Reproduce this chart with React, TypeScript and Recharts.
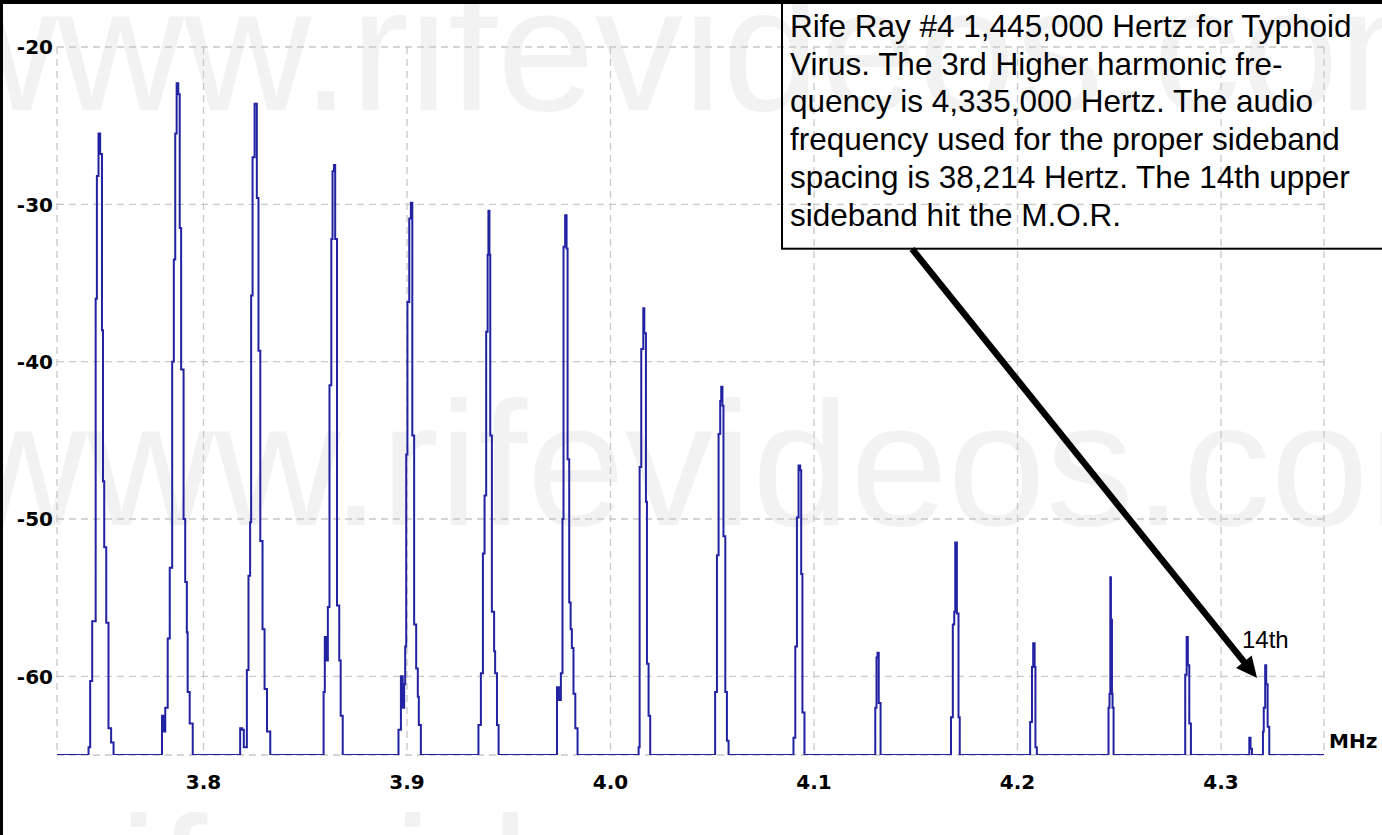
import React from 'react';
import { LineChart, Line, XAxis, YAxis, CartesianGrid, ReferenceLine } from 'recharts';

// ---- axes ----
const X_DOMAIN: [number, number] = [3.728, 4.3506];
const Y_DOMAIN: [number, number] = [-65, -20];
const X_TICKS = [3.8, 3.9, 4.0, 4.1, 4.2, 4.3];
const Y_TICKS = [-20, -30, -40, -50, -60];
const X_UNIT = 'MHz';

// ---- spectrum trace: [MHz, dB] samples, level changes at each listed frequency ----
const TRACE_START: [number, number][] = [[3.728, -65]];
const PEAK_01: [number, number][] = [
  [3.7435, -64.5], [3.7443, -60.3], [3.7453, -56.5], [3.747, -36.0], [3.7476, -28.2], [3.7484, -25.5],
  [3.7492, -26.8], [3.7501, -38.0], [3.7506, -47.6], [3.7512, -51.8], [3.7522, -56.6], [3.7533, -63.3],
  [3.7546, -64.2], [3.7558, -65],
];
const PEAK_02: [number, number][] = [
  [3.7796, -62.5], [3.7804, -63.5], [3.7812, -62.0], [3.7824, -57.6], [3.7834, -53.1], [3.7846, -40.0],
  [3.7854, -33.5], [3.7861, -25.5], [3.7868, -22.3], [3.7876, -23.0], [3.7883, -31.5], [3.789, -40.5],
  [3.7902, -50.0], [3.791, -54.0], [3.7918, -57.2], [3.7922, -61.0], [3.7932, -63.0], [3.7947, -65],
];
const PEAK_03: [number, number][] = [
  [3.818, -63.3], [3.819, -63.4], [3.8198, -64.5], [3.8213, -59.6], [3.8221, -53.6], [3.8229, -50.2],
  [3.8234, -35.8], [3.8241, -27.0], [3.8251, -23.6], [3.8262, -29.6], [3.827, -39.3], [3.8279, -51.4],
  [3.829, -57.0], [3.83, -60.8], [3.8312, -63.5], [3.8328, -65],
];
const PEAK_04: [number, number][] = [
  [3.859, -61.0], [3.8596, -57.5], [3.8605, -59.0], [3.8611, -55.6], [3.8619, -41.5], [3.8628, -32.2],
  [3.8634, -27.9], [3.8641, -27.5], [3.8647, -32.2], [3.8656, -55.5], [3.8667, -59.0], [3.8674, -62.5],
  [3.8684, -65],
];
const PEAK_05: [number, number][] = [
  [3.8958, -63.4], [3.897, -60.0], [3.8979, -62.0], [3.8986, -60.5], [3.8991, -58.1], [3.8996, -45.9],
  [3.9002, -36.2], [3.9011, -30.9], [3.9019, -29.9], [3.9026, -44.7], [3.9035, -56.7], [3.9045, -59.5],
  [3.9053, -61.3], [3.9058, -63.1], [3.9068, -65],
];
const PEAK_06: [number, number][] = [
  [3.9351, -63.1], [3.9363, -59.8], [3.9373, -52.2], [3.9381, -48.5], [3.9389, -38.1], [3.9396, -33.2],
  [3.94, -30.4], [3.9405, -33.2], [3.9409, -44.7], [3.9417, -55.9], [3.9428, -58.4], [3.9433, -59.8],
  [3.9442, -63.1], [3.945, -65],
];
const PEAK_07: [number, number][] = [
  [3.9737, -60.7], [3.9746, -61.5], [3.9756, -59.8], [3.9764, -50.0], [3.9769, -32.7], [3.9777, -30.7],
  [3.9784, -32.8], [3.9789, -46.2], [3.9797, -55.3], [3.9804, -57.0], [3.981, -58.2], [3.9818, -61.1],
  [3.9827, -63.3], [3.9838, -65],
];
const PEAK_08: [number, number][] = [
  [4.0138, -64.5], [4.0143, -46.7], [4.0151, -39.2], [4.0161, -36.6], [4.0166, -38.2], [4.0174, -48.9],
  [4.0179, -59.2], [4.0187, -62.5], [4.0195, -65],
];
const PEAK_09: [number, number][] = [
  [4.0514, -61.0], [4.0523, -52.3], [4.0531, -44.6], [4.0539, -42.5], [4.0544, -41.6], [4.055, -42.8],
  [4.0555, -51.1], [4.0564, -61.0], [4.0572, -64.1], [4.058, -65],
];
const PEAK_10: [number, number][] = [
  [4.0899, -63.9], [4.0908, -58.1], [4.0916, -49.9], [4.0924, -46.6], [4.0932, -46.9], [4.0937, -53.5],
  [4.0943, -62.3], [4.0953, -65],
];
const PEAK_11: [number, number][] = [
  [4.1301, -62.0], [4.1307, -58.8], [4.1312, -58.5], [4.1318, -61.7], [4.1327, -65],
];
const PEAK_12: [number, number][] = [
  [4.1673, -62.6], [4.1682, -56.7], [4.1689, -55.9], [4.1694, -51.5], [4.1702, -56.0], [4.171, -62.6],
  [4.1716, -65],
];
const PEAK_13: [number, number][] = [
  [4.2062, -62.9], [4.2071, -59.4], [4.2077, -57.9], [4.2084, -59.4], [4.2088, -64.5], [4.2095, -65],
];
const PEAK_14: [number, number][] = [
  [4.2447, -62.0], [4.2452, -61.1], [4.2456, -53.7], [4.2459, -56.4], [4.2464, -61.1], [4.2467, -62.0],
  [4.2472, -65],
];
const PEAK_15: [number, number][] = [
  [4.2824, -59.9], [4.2831, -57.5], [4.2837, -59.3], [4.2844, -63.0], [4.2852, -65],
];
const SPUR_16: [number, number][] = [[4.3139, -63.9], [4.3145, -64.6], [4.3152, -65]];
const PEAK_16: [number, number][] = [
  [4.3206, -63.5], [4.321, -62.0], [4.3217, -59.3], [4.3222, -60.5], [4.3229, -63.2], [4.3237, -65],
];
const TRACE_END: [number, number][] = [[4.3506, -65]];

// ---- annotation ----
const NOTE_LINES = [
  'Rife Ray #4 1,445,000 Hertz for Typhoid',
  'Virus. The 3rd Higher harmonic fre-',
  'quency is 4,335,000 Hertz. The audio',
  'frequency used for the proper sideband',
  'spacing is 38,214 Hertz. The 14th upper',
  'sideband hit the M.O.R.',
];
const MARK_LABEL = '14th';
const ARROW_FROM = { x: 4.1482, y: -32.84 };
const ARROW_TO = { x: 4.3177, y: -60.11 };
const WATERMARK = 'www.rifevideos.com';

const TRACE = [
  ...TRACE_START, ...PEAK_01, ...PEAK_02, ...PEAK_03, ...PEAK_04, ...PEAK_05, ...PEAK_06, ...PEAK_07,
  ...PEAK_08, ...PEAK_09, ...PEAK_10, ...PEAK_11, ...PEAK_12, ...PEAK_13, ...PEAK_14, ...PEAK_15,
  ...SPUR_16, ...PEAK_16, ...TRACE_END,
].map(([f, db]) => ({ f, db }));

const TICK_FONT: React.CSSProperties = {
  fontFamily: '"DejaVu Sans", sans-serif',
  fontWeight: 'bold',
  fontSize: 20,
  fill: '#000',
};

const XTick = (props: any) => (
  <text x={props.x} y={props.y} dy="0.71em" textAnchor="middle" style={TICK_FONT}>
    {Number(props.payload.value).toFixed(1)}
  </text>
);

const YTick = (props: any) => (
  <text x={props.x} y={props.y} dy="0.36em" textAnchor="end" style={TICK_FONT}>
    {props.payload.value}
  </text>
);

const ArrowShape = (p: any) => {
  const { x1, y1, x2, y2 } = p;
  const dx = x2 - x1;
  const dy = y2 - y1;
  const len = Math.sqrt(dx * dx + dy * dy) || 1;
  const ux = dx / len;
  const uy = dy / len;
  const headL = 21;
  const headW = 10;
  const bx = x2 - ux * headL;
  const by = y2 - uy * headL;
  const nx = uy;
  const ny = -ux;
  return (
    <g>
      <line x1={x1} y1={y1} x2={bx + ux * 2} y2={by + uy * 2} stroke="#000" strokeWidth={6.5} />
      <polygon
        points={`${x2},${y2} ${bx + nx * headW},${by + ny * headW} ${bx - nx * headW},${by - ny * headW}`}
        fill="#000"
      />
    </g>
  );
};

export default function App() {
  return (
    <div
      style={{
        position: 'absolute',
        left: 0,
        top: 0,
        width: 1382,
        height: 835,
        background: '#fff',
        overflow: 'hidden',
      }}
    >
      <svg width={1382} height={835} style={{ position: 'absolute', left: 0, top: 0 }}>
        <g style={{ fontFamily: '"Liberation Sans", Arial, sans-serif', fontSize: 176 }} fill="#f2f2f2">
          <text x={-70} y={110}>{WATERMARK}</text>
          <text x={-40} y={525}>{WATERMARK}</text>
          <text x={-360} y={940}>{WATERMARK}</text>
        </g>
      </svg>
      <div style={{ position: 'absolute', left: 0, top: 0 }}>
        <LineChart width={1382} height={835} data={TRACE} margin={{ top: 47, right: 58, bottom: 0, left: 0 }}>
          <CartesianGrid stroke="#c8c8c8" strokeWidth={1.3} strokeDasharray="7 5" />
          <XAxis
            type="number"
            dataKey="f"
            domain={X_DOMAIN}
            ticks={X_TICKS}
            allowDataOverflow
            interval={0}
            height={80}
            axisLine={false}
            tickLine={false}
            tickSize={0}
            tickMargin={20}
            tick={<XTick />}
          />
          <YAxis
            type="number"
            domain={Y_DOMAIN}
            ticks={Y_TICKS}
            allowDataOverflow
            interval={0}
            width={57}
            axisLine={false}
            tickLine={false}
            tickSize={0}
            tickMargin={4}
            tick={<YTick />}
          />
          <Line
            type="stepAfter"
            dataKey="db"
            stroke="#2222a2"
            strokeWidth={2}
            dot={false}
            activeDot={false}
            isAnimationActive={false}
          />
          <ReferenceLine segment={[ARROW_FROM, ARROW_TO]} ifOverflow="visible" shape={ArrowShape} />
        </LineChart>
      </div>
      <svg width={1382} height={835} style={{ position: 'absolute', left: 0, top: 0 }}>
        <rect x={0} y={0} width={1382} height={4} fill="#000" />
        <rect x={0} y={0} width={3} height={835} fill="#000" />
        <rect x={782} y={-5} width={700} height={253.7} fill="none" stroke="#000" strokeWidth={2} />
        <g style={{ fontFamily: '"Liberation Sans", Arial, sans-serif', fontSize: 31.5 }} fill="#000">
          {NOTE_LINES.map((t, i) => (
            <text key={i} x={790} y={37 + i * 37.7}>
              {t}
            </text>
          ))}
        </g>
        <text x={1242} y={648} style={{ fontFamily: '"Liberation Sans", Arial, sans-serif', fontSize: 24 }} fill="#000">
          {MARK_LABEL}
        </text>
        <text x={1329} y={748} style={TICK_FONT}>
          {X_UNIT}
        </text>
      </svg>
    </div>
  );
}
